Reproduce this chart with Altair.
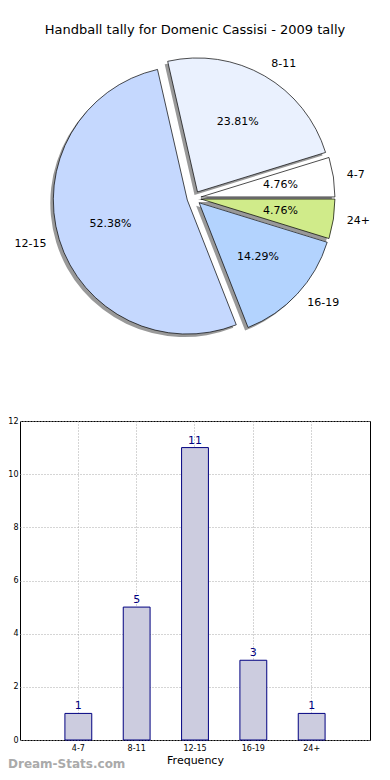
import math
import altair as alt
import pandas as pd

# ---- data ----
categories = ["4-7", "8-11", "12-15", "16-19", "24+"]
counts = [1, 5, 11, 3, 1]
pie_colors = ["#ffffff", "#eaf1fe", "#c5d8fe", "#b3d3fe", "#d0eb8a"]
# clockwise drawing order (matplotlib counter-clockwise from 3 o'clock)
pie_order = [5, 4, 3, 2, 1]
y_ticks = [0, 2, 4, 6, 8, 10, 12]
title_text = "Handball tally for Domenic Cassisi - 2009 tally"

total = sum(counts)
df = pd.DataFrame({"cat": categories, "count": counts, "ord": pie_order})

W, H = 350, 319
CX, CY = 174, -223      # pie centre relative to the bar plot origin
R = 134
EXPLODE = 7

theta_scale = alt.Scale(domain=[0, total], range=[math.pi / 2, math.pi / 2 + 2 * math.pi])
color_scale = alt.Scale(domain=categories, range=pie_colors)

pie_base = (
    alt.Chart(df)
    .transform_window(hi="sum(count)", sort=[alt.SortField("ord")], frame=[None, 0])
    .transform_calculate(
        lo="datum.hi - datum.count",
        mid="datum.hi - datum.count / 2",
    )
    .transform_calculate(ang=f"PI/2 + 2*PI*datum.mid/{total}")
    .transform_calculate(
        cx=f"{CX} + {EXPLODE}*sin(datum.ang)",
        cy=f"{CY} - {EXPLODE}*cos(datum.ang)",
        side="sin(datum.ang) >= 0 ? 'r' : 'l'",
        pct=f"format(datum.count / {total} * 100, '.2f') + '%'",
    )
)

xc = alt.X("cx:Q", scale=None, axis=None)
yc = alt.Y("cy:Q", scale=None, axis=None)

shadow = pie_base.mark_arc(radius=R, color="#000000", opacity=0.4, xOffset=-3, yOffset=3).encode(
    theta=alt.Theta("lo:Q", scale=theta_scale, stack=None),
    theta2="hi:Q",
    x=xc,
    y=yc,
)

wedges = pie_base.mark_arc(radius=R, stroke="#000000", strokeWidth=0.7).encode(
    theta=alt.Theta("lo:Q", scale=theta_scale, stack=None),
    theta2="hi:Q",
    color=alt.Color("cat:N", scale=color_scale, legend=None),
    x=xc,
    y=yc,
)

lab_r = pie_base.transform_filter("datum.side == 'r'").mark_text(
    radius=R * 1.1, align="left", baseline="middle", fontSize=11, color="#000000"
).encode(
    theta=alt.Theta("mid:Q", scale=theta_scale, stack=None), x=xc, y=yc, text="cat:N"
)
lab_l = pie_base.transform_filter("datum.side == 'l'").mark_text(
    radius=R * 1.1, align="right", baseline="middle", fontSize=11, color="#000000"
).encode(
    theta=alt.Theta("mid:Q", scale=theta_scale, stack=None), x=xc, y=yc, text="cat:N"
)
pct = pie_base.mark_text(
    radius=R * 0.6, align="center", baseline="middle", fontSize=11, color="#000000"
).encode(
    theta=alt.Theta("mid:Q", scale=theta_scale, stack=None), x=xc, y=yc, text="pct:N"
)

pie = alt.layer(shadow, wedges, lab_r, lab_l, pct)

# ---- bar chart ----
xb = alt.X(
    "cat:N",
    sort=categories,
    scale=alt.Scale(paddingInner=0.54, paddingOuter=0.77),
    axis=alt.Axis(
        title="Frequency", labelAngle=0, labelFontSize=8, labelPadding=4,
        titleFontSize=11, titleFontWeight="normal", titlePadding=2,
        ticks=False, domain=False, grid=True, gridDash=[1, 2], gridColor="#aaaaaa",
        bandPosition=0.5,
    ),
)
yb = alt.Y(
    "count:Q",
    scale=alt.Scale(domain=[0, 12], nice=False),
    axis=alt.Axis(
        title="Stat Instances", values=y_ticks, labelFontSize=8, labelPadding=2,
        titleFontSize=11, titleFontWeight="normal", titlePadding=2,
        ticks=False, domain=False, grid=True, gridDash=[1, 2], gridColor="#aaaaaa",
    ),
)

bars = alt.Chart(df).mark_bar(color="#ccccdf", stroke="#000080", strokeWidth=1).encode(x=xb, y=yb)
bar_text = alt.Chart(df).mark_text(dy=-7, fontSize=11, color="#000080").encode(x=xb, y=yb, text="count:Q")
bar_layer = alt.layer(bars, bar_text)

extras = pd.DataFrame({"t": [title_text]})
title = alt.Chart(extras).mark_text(
    align="center", baseline="middle", fontSize=13, color="#000000"
).encode(x=alt.value(W / 2), y=alt.value(-391), text="t:N")

watermark = alt.Chart(pd.DataFrame({"t": ["Dream-Stats.com"]})).mark_text(
    align="left", baseline="bottom", fontSize=12, fontWeight="bold", color="#aaaaaa"
).encode(x=alt.value(-12), y=alt.value(350), text="t:N")

chart = (
    alt.layer(pie, bar_layer, title, watermark)
    .resolve_scale(x="independent", y="independent", theta="independent")
    .properties(
        width=W,
        height=H,
        autosize=alt.AutoSizeParams(type="none"),
        padding={"left": 12, "top": 413, "right": 12, "bottom": 32},
    )
    .configure(font="DejaVu Sans")
    .configure_view(stroke="#000000", strokeWidth=1)
    .configure_axis(labelColor="#000000", titleColor="#000000")
)

chart.save("out.html", embed_options={"renderer": "svg", "actions": False})
